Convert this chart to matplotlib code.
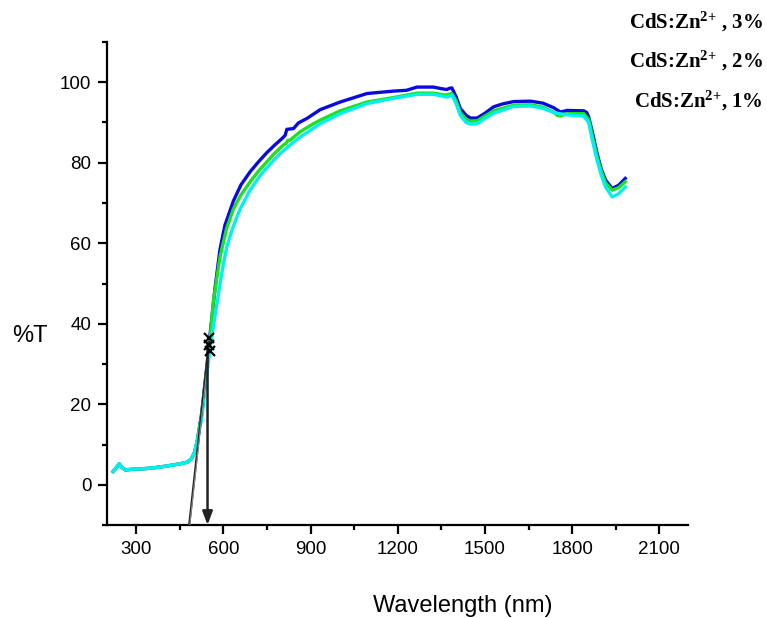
import numpy as np
import matplotlib
matplotlib.use("Agg")
import matplotlib.pyplot as plt
from matplotlib.ticker import MultipleLocator

plt.rcParams['font.family'] = ['Liberation Sans', 'DejaVu Sans']
plt.rcParams['mathtext.fontset'] = 'custom'
plt.rcParams['mathtext.rm'] = 'Liberation Serif:bold'
plt.rcParams['mathtext.bf'] = 'Liberation Serif:bold'
plt.rcParams['mathtext.it'] = 'Liberation Serif:bold:italic'

# ---- data ----
wl_3 = [220, 232, 241, 250, 262, 300, 350, 400, 450, 475, 490, 500, 510, 525, 542, 554, 571, 588,
        605, 623, 634, 660, 692, 720, 749, 775, 801, 812, 818, 830, 841, 858, 887, 933, 1002, 1094,
        1185, 1230, 1266, 1323, 1350, 1369, 1378, 1386, 1400, 1415, 1435, 1450, 1473, 1500, 1530,
        1560, 1599, 1657, 1700, 1736, 1760, 1783, 1840, 1850, 1857, 1870, 1886, 1900, 1915, 1938,
        1960, 1983]
T_3 = [3.3, 4.3, 5.2, 4.3, 3.7, 3.9, 4.1, 4.6, 5.2, 5.6, 6.5, 8.0, 11.0, 17.8, 29.0, 37.5, 49.0, 58.5,
       64.5, 68.2, 70.5, 74.5, 77.8, 80.2, 82.5, 84.3, 86.0, 86.8, 88.3, 88.4, 88.5, 89.9, 91.0, 93.2, 95.1, 97.2,
       97.8, 98.0, 98.8, 98.8, 98.4, 98.2, 98.5, 98.6, 96.5, 93.5, 91.8, 91.1, 91.1, 92.3, 93.9,
       94.6, 95.2, 95.3, 94.8, 93.7, 92.6, 93.0, 92.9, 92.5, 91.4, 87.5, 82.3, 78.5, 75.7, 73.6,
       74.4, 76.1]

wl_2 = [220, 232, 241, 250, 262, 300, 350, 400, 450, 475, 490, 500, 510, 525, 542, 554, 565, 588,
        610, 634, 660, 692, 720, 749, 775, 806, 815, 822, 829, 864, 900, 933, 1002, 1094, 1185,
        1266, 1323, 1363, 1386, 1400, 1415, 1435, 1450, 1473, 1500, 1530, 1599, 1657, 1700, 1736,
        1748, 1760, 1783, 1840, 1857, 1870, 1886, 1900, 1915, 1938, 1960, 1983]
T_2 = [3.3, 4.3, 5.2, 4.3, 3.7, 3.9, 4.1, 4.6, 5.2, 5.6, 6.5, 8.0, 11.0, 17.5, 28.5, 36.5, 45.5, 56.6,
       63.5, 68.5, 72.0, 75.3, 77.9, 80.2, 82.3, 84.4, 84.8, 85.6, 85.6, 87.7, 89.3, 90.6, 92.9, 95.1, 96.2,
       97.3, 97.3, 96.8, 97.2, 95.5, 92.5, 90.8, 90.3, 90.4, 91.6, 92.9, 94.3, 94.4, 93.8, 92.6,
       91.8, 91.6, 92.2, 92.2, 90.8, 86.5, 81.5, 78.0, 75.0, 73.2, 73.8, 75.3]

wl_1 = [220, 232, 241, 250, 262, 300, 350, 400, 450, 475, 490, 500, 510, 525, 542, 554, 565, 588,
        600, 611, 630, 646, 657, 690, 715, 737, 772, 800, 815, 829, 864, 933, 1002, 1094, 1185,
        1266, 1323, 1369, 1386, 1400, 1415, 1435, 1450, 1473, 1500, 1530, 1599, 1657, 1700, 1740,
        1783, 1840, 1857, 1870, 1886, 1900, 1915, 1938, 1960, 1983]
T_1 = [3.3, 4.3, 5.2, 4.3, 3.7, 3.9, 4.1, 4.6, 5.2, 5.6, 6.5, 8.0, 11.0, 16.5, 27.0, 34.0, 39.3, 50.0,
       55.0, 59.0, 63.5, 66.5, 68.5, 73.0, 75.7, 77.8, 80.6, 82.6, 83.5, 84.4, 86.4, 89.7, 92.2, 94.7, 96.0,
       97.0, 97.0, 96.3, 96.8, 94.8, 91.8, 90.0, 89.6, 89.7, 91.0, 92.3, 94.0, 94.1, 93.5, 92.4,
       91.9, 91.6, 90.0, 85.5, 80.6, 77.0, 74.0, 71.5, 72.3, 74.0]

labels = ['CdS:Zn$^{2{+}}$ , 3%', 'CdS:Zn$^{2{+}}$ , 2%', 'CdS:Zn$^{2{+}}$, 1%']
colors = ['#0A0ADC', '#1EE01E', '#00F0F0']

# band-edge construction
tangent_x = [482, 551]
tangent_y = [-10, 35.5]
edge_x = 545
edge_top = 35
marker_x = [549, 551, 552]
marker_y = [36.5, 34.8, 33.2]

fig = plt.figure(figsize=(7.67, 6.18), dpi=100)
ax = fig.add_axes([107.3 / 767, 93 / 618, (688.3 - 107.3) / 767, (525 - 42) / 618])

ax.plot(wl_3, T_3, color=colors[0], lw=2.4, zorder=3)
ax.plot(wl_2, T_2, color=colors[1], lw=2.4, zorder=3)
ax.plot(wl_1, T_1, color=colors[2], lw=2.4, zorder=3)

ax.plot(tangent_x, tangent_y, color='#222222', lw=1.6, zorder=4)
ax.plot([tangent_x[0] + 2, tangent_x[1]], [tangent_y[0], tangent_y[1] - 1.5], color='#888888', lw=0.8, zorder=4)
ax.annotate('', xy=(edge_x, -10), xytext=(edge_x, edge_top),
            arrowprops=dict(arrowstyle='-|>,head_length=0.8,head_width=0.3', color='#222222', lw=1.8,
                            shrinkA=0, shrinkB=0), zorder=5)
ax.plot(marker_x, marker_y, ls='none', marker='x', color='black', ms=7, mew=1.6, zorder=6)

ax.set_xlim(200, 2200)
ax.set_ylim(-10, 110)
ax.xaxis.set_minor_locator(MultipleLocator(150))
ax.yaxis.set_minor_locator(MultipleLocator(10))
ax.set_xticks([300, 600, 900, 1200, 1500, 1800, 2100])
ax.set_yticks([0, 20, 40, 60, 80, 100])

for s in ['top', 'right']:
    ax.spines[s].set_visible(False)
for s in ['left', 'bottom']:
    ax.spines[s].set_linewidth(1.6)

ax.tick_params(which='major', direction='out', length=6.5, width=1.6, labelsize=13.5, pad=5)
ax.tick_params(which='minor', direction='out', length=3.5, width=1.6)

fig.text(30 / 767, 1 - 336 / 618, '%T', fontsize=17, ha='center', va='center')
fig.text(463 / 767, 1 - 606 / 618, 'Wavelength (nm)', fontsize=17, ha='center', va='center')

ys = [28, 67, 107]
for lab, y in zip(labels, ys):
    fig.text(763 / 767, 1 - y / 618, lab, fontsize=15, ha='right', va='baseline',
             family='Liberation Serif', weight='bold')

fig.savefig('out.png', dpi=100)
